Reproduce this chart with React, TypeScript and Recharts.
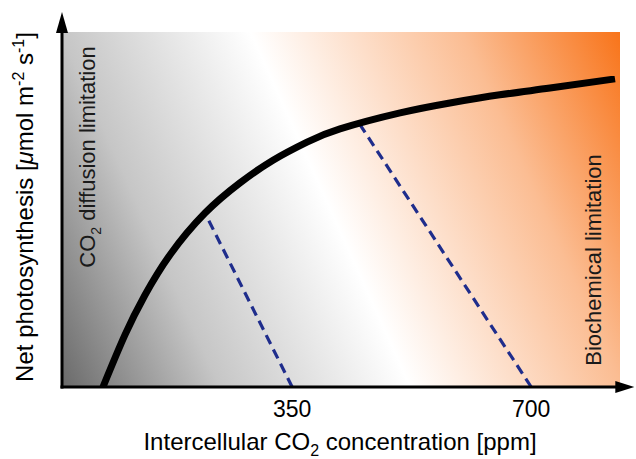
import React from 'react';
import { LineChart, Line, XAxis, YAxis, ReferenceArea, ReferenceLine, Label } from 'recharts';

// curve: intercellular CO2 (ppm) vs net photosynthesis (relative units)
const co2 = [73, 105, 134.5, 171, 222.4, 273.6, 322, 371.7, 420, 508, 581, 654, 727.5, 822.7];
const netPs = [0, 14.6, 25.9, 37.2, 49.0, 57.5, 63.9, 69.0, 72.7, 77.2, 80.0, 82.3, 84.2, 86.8];

const xTicks = [350, 700];
// where the dashed guides hit the curve
const guideTopX = [222.4, 449];
const guideTopY = [49.0, 74.0];

const X_MIN = 13;
const X_MAX = 830;

const FONT = '"Liberation Sans", Arial, Helvetica, sans-serif';

const curve = co2.map((x, i) => ({ x, y: netPs[i] }));

const ArrowUp = (props: any) => {
  const { x1, y1, x2, y2 } = props;
  return (
    <g>
      <line x1={x1} y1={y1 + 1.5} x2={x2} y2={y2 + 18} stroke="#000" strokeWidth={3} />
      <polygon points={`${x2 - 6},${y2 + 21} ${x2 + 6},${y2 + 21} ${x2},${y2}`} fill="#000" />
    </g>
  );
};

const ArrowRight = (props: any) => {
  const { x1, y1, x2, y2 } = props;
  return (
    <g>
      <line x1={x1 - 1.5} y1={y1} x2={x2 - 16} y2={y2} stroke="#000" strokeWidth={3} />
      <polygon points={`${x2 - 19},${y2 - 6} ${x2 - 19},${y2 + 6} ${x2},${y2}`} fill="#000" />
    </g>
  );
};

const DiffusionText = () => (
  <text
    transform="translate(95,157) rotate(-90)"
    textAnchor="middle"
    fontSize={22}
    fontFamily={FONT}
    fill="#1a1a1a"
  >
    CO<tspan fontSize={14} dy={6}>2</tspan>
    <tspan dy={-6}> diffusion limitation</tspan>
  </text>
);

const BiochemText = () => (
  <text
    transform="translate(601,260) rotate(-90)"
    textAnchor="middle"
    fontSize={22}
    fontFamily={FONT}
    fill="#1a1a1a"
  >
    Biochemical limitation
  </text>
);

export default function App() {
  return (
    <div style={{ position: 'absolute', left: 0, top: 0, fontFamily: FONT }}>
      <LineChart width={636} height={459} data={curve} margin={{ top: 32, right: 16, bottom: 42, left: 62 }}>
        <defs>
          <linearGradient id="bg" gradientUnits="userSpaceOnUse" x1={62} y1={387} x2={659} y2={118}>
            <stop offset="0" stopColor="#6a6a6a" />
            <stop offset="0.22" stopColor="#c6c6c6" />
            <stop offset="0.485" stopColor="#ffffff" />
            <stop offset="0.78" stopColor="#fbbd93" />
            <stop offset="1" stopColor="#f8741a" />
          </linearGradient>
        </defs>
        <XAxis
          type="number"
          dataKey="x"
          domain={[X_MIN, X_MAX]}
          allowDataOverflow
          ticks={xTicks}
          axisLine={false}
          tickLine={false}
          tickSize={6}
          tickMargin={8}
          tick={{ fill: '#000', fontSize: 23, fontFamily: FONT }}
        />
        <YAxis type="number" domain={[0, 100]} hide allowDataOverflow />
        <ReferenceArea x1={X_MIN} x2={X_MAX} y1={0} y2={100} fill="url(#bg)" fillOpacity={1} stroke="none">
          <Label content={() => <DiffusionText />} />
          <Label content={() => <BiochemText />} />
        </ReferenceArea>
        {xTicks.map((t, i) => (
          <ReferenceLine
            key={t}
            segment={[{ x: t, y: 0 }, { x: guideTopX[i], y: guideTopY[i] }]}
            stroke="#1f2d8c"
            strokeWidth={3.2}
            strokeDasharray="10 6"
          />
        ))}
        <Line
          type="natural"
          dataKey="y"
          stroke="#000"
          strokeWidth={7}
          dot={false}
          isAnimationActive={false}
        />
        <ReferenceLine
          segment={[{ x: X_MIN, y: 0 }, { x: X_MIN, y: 105.6 }]}
          ifOverflow="visible"
          shape={<ArrowUp />}
        />
        <ReferenceLine
          segment={[{ x: X_MIN, y: 0 }, { x: 851, y: 0 }]}
          ifOverflow="visible"
          shape={<ArrowRight />}
        />
        <text x={340} y={450} textAnchor="middle" fontSize={24} fontFamily={FONT} fill="#000">
          Intercellular CO<tspan fontSize={16} dy={6}>2</tspan>
          <tspan dy={-6}> concentration [ppm]</tspan>
        </text>
        <text
          transform="translate(33,207) rotate(-90)"
          textAnchor="middle"
          fontSize={24}
          fontFamily={FONT}
          fill="#000"
        >
          Net photosynthesis [<tspan fontStyle="italic">μ</tspan>mol m<tspan fontSize={16} dy={-9}>-2</tspan>
          <tspan dy={9}> s</tspan>
          <tspan fontSize={16} dy={-9}>-1</tspan>
          <tspan dy={9}>]</tspan>
        </text>
      </LineChart>
    </div>
  );
}
